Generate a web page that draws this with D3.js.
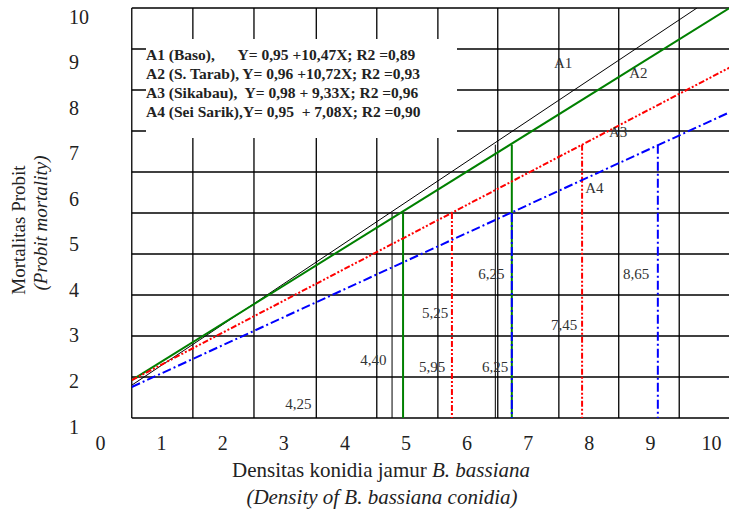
<!DOCTYPE html>
<html>
<head>
<meta charset="utf-8">
<script src="https://cdn.jsdelivr.net/npm/d3@7/dist/d3.min.js"></script>
<style>
  body { margin: 0; background: #fff; }
  svg { display: block; font-family: "Liberation Serif", "Times New Roman", serif; }
</style>
</head>
<body>
<div id="chart"></div>
<script>
// data
var xTicks = [0, 1, 2, 3, 4, 5, 6, 7, 8, 9, 10];
var yTicks = [1, 2, 3, 4, 5, 6, 7, 8, 9, 10];
var xGrid = [0.52, 1.52, 2.52, 3.54, 4.53, 5.53, 6.51, 7.51, 8.49, 9.48];
var yGrid = [1, 1.9, 2.8, 3.7, 4.6, 5.5, 6.4, 7.3, 8.2, 9.1, 10];

var seriesNames = ["A1", "A2", "A3", "A4"];
// start and end point of each regression line (x, y)
var lineStart = [[0.52, 1.72], [0.52, 1.83], [0.52, 1.83], [0.52, 1.68]];
var lineEnd = [[9.77, 10.0], [10.4, 10.08], [10.4, 8.76], [10.4, 7.77]];
// drop lines: x position and top value for each series
var dropX = [[4.78, 6.47], [4.96, 6.74], [5.76, 7.89], [6.74, 9.13]];
var dropTop = [[5.5, 7.0], [5.5, 7.0], [5.5, 7.0], [5.5, 7.0]];

var valueLabels = ["4,25", "4,40", "5,95", "5,25", "6,25", "6,25", "7,45", "8,65"];
var valueLabelX = [3.03, 4.26, 5.22, 5.27, 6.19, 6.25, 7.38, 8.56];
var valueLabelY = [1.20, 2.16, 2.01, 3.20, 4.05, 2.01, 2.93, 4.05];
var nameLabelX = [7.43, 8.66, 8.33, 7.94];
var nameLabelY = [8.68, 8.46, 7.17, 5.93];

var legendLines = [
  "A1 (Baso),      Y= 0,95 +10,47X; R2 =0,89",
  "A2 (S. Tarab), Y= 0,96 +10,72X; R2 =0,93",
  "A3 (Sikabau),  Y= 0,98 + 9,33X; R2 =0,96",
  "A4 (Sei Sarik),Y= 0,95  + 7,08X; R2 =0,90"
];

var svgWidth = 729;
var svgHeight = 511;

var colors = ["#000000", "#008000", "#ff0000", "#0000ff"];
var widths = [1, 2, 2, 2];
var dashes = [null, null, "6,2,2,2,2,2", "9,3,2,3"];

var svg = d3.select("#chart")
  .append("svg")
  .attr("width", svgWidth)
  .attr("height", svgHeight);

var x = d3.scaleLinear().domain([0, 10]).range([100, 711]);
var y = d3.scaleLinear().domain([1, 10]).range([418, 8]);

svg.append("clipPath")
  .attr("id", "plot-clip")
  .append("rect")
  .attr("x", x(0.52))
  .attr("y", y(10))
  .attr("width", svgWidth - x(0.52))
  .attr("height", y(1) - y(10));

// grid
var grid = svg.append("g");
grid.selectAll(".hgrid")
  .data(yGrid)
  .enter()
  .append("line")
  .attr("x1", x(0.52))
  .attr("x2", svgWidth)
  .attr("y1", d => y(d))
  .attr("y2", d => y(d))
  .attr("stroke", "#000")
  .attr("stroke-width", 1.3);

grid.selectAll(".vgrid")
  .data(xGrid)
  .enter()
  .append("line")
  .attr("x1", d => x(d))
  .attr("x2", d => x(d))
  .attr("y1", y(1))
  .attr("y2", y(10))
  .attr("stroke", "#000")
  .attr("stroke-width", 1.3);

// legend box covers the grid
var legend = svg.append("g");
legend.append("rect")
  .attr("x", 146)
  .attr("y", 39)
  .attr("width", 311)
  .attr("height", 99)
  .attr("fill", "#fff");

legend.selectAll("text")
  .data(legendLines)
  .enter()
  .append("text")
  .attr("x", 146)
  .attr("y", (d, i) => 60 + i * 19)
  .attr("font-size", "15.5px")
  .attr("font-weight", "bold")
  .attr("fill", "#222")
  .style("white-space", "pre")
  .text(d => d);

// regression lines
var plot = svg.append("g").attr("clip-path", "url(#plot-clip)");
var line = d3.line().x(d => x(d[0])).y(d => y(d[1]));

seriesNames.forEach(function(name, i) {
  plot.append("path")
    .datum([lineStart[i], lineEnd[i]])
    .attr("d", line)
    .attr("fill", "none")
    .attr("stroke", colors[i])
    .attr("stroke-width", widths[i])
    .attr("stroke-dasharray", dashes[i]);

  dropX[i].forEach(function(dx, j) {
    plot.append("line")
      .attr("x1", x(dx))
      .attr("x2", x(dx))
      .attr("y1", y(dropTop[i][j]))
      .attr("y2", y(1))
      .attr("stroke", colors[i])
      .attr("stroke-width", widths[i])
      .attr("stroke-dasharray", dashes[i]);
  });

  svg.append("text")
    .attr("x", x(nameLabelX[i]))
    .attr("y", y(nameLabelY[i]))
    .attr("font-size", "15px")
    .attr("fill", "#333")
    .text(name);
});

svg.selectAll(".vlabel")
  .data(valueLabels)
  .enter()
  .append("text")
  .attr("x", (d, i) => x(valueLabelX[i]))
  .attr("y", (d, i) => y(valueLabelY[i]))
  .attr("font-size", "15px")
  .attr("fill", "#333")
  .text(d => d);

// axes (labels only)
var xAxis = svg.append("g")
  .attr("transform", `translate(0, ${y(1)})`)
  .call(d3.axisBottom(x).tickValues(xTicks).tickSize(0).tickPadding(18));

var yAxis = svg.append("g")
  .attr("transform", "translate(69, 0)")
  .call(d3.axisLeft(y).tickValues(yTicks).tickSize(0));

[xAxis, yAxis].forEach(function(ax) {
  ax.select(".domain").remove();
  ax.selectAll("text")
    .attr("font-family", "Liberation Serif, Times New Roman, serif")
    .attr("font-size", "20px")
    .attr("fill", "#222");
});

yAxis.selectAll("text")
  .attr("text-anchor", "start")
  .attr("x", 0)
  .attr("dy", 0)
  .attr("y", 15);

// axis titles
var xTitle = svg.append("text")
  .attr("x", 381)
  .attr("y", 477)
  .attr("text-anchor", "middle")
  .attr("font-size", "21px")
  .attr("fill", "#222");
xTitle.append("tspan").text("Densitas konidia jamur ");
xTitle.append("tspan").attr("font-style", "italic").text("B. bassiana");

svg.append("text")
  .attr("x", 382)
  .attr("y", 504)
  .attr("text-anchor", "middle")
  .attr("font-size", "21px")
  .attr("font-style", "italic")
  .attr("fill", "#222")
  .text("(Density of B. bassiana conidia)");

svg.append("text")
  .attr("transform", "translate(25, 230) rotate(-90)")
  .attr("text-anchor", "middle")
  .attr("font-size", "19px")
  .attr("fill", "#222")
  .text("Mortalitas Probit");

svg.append("text")
  .attr("transform", "translate(47, 223) rotate(-90)")
  .attr("text-anchor", "middle")
  .attr("font-size", "19px")
  .attr("font-style", "italic")
  .attr("fill", "#222")
  .text("(Probit mortality)");
</script>
</body>
</html>
